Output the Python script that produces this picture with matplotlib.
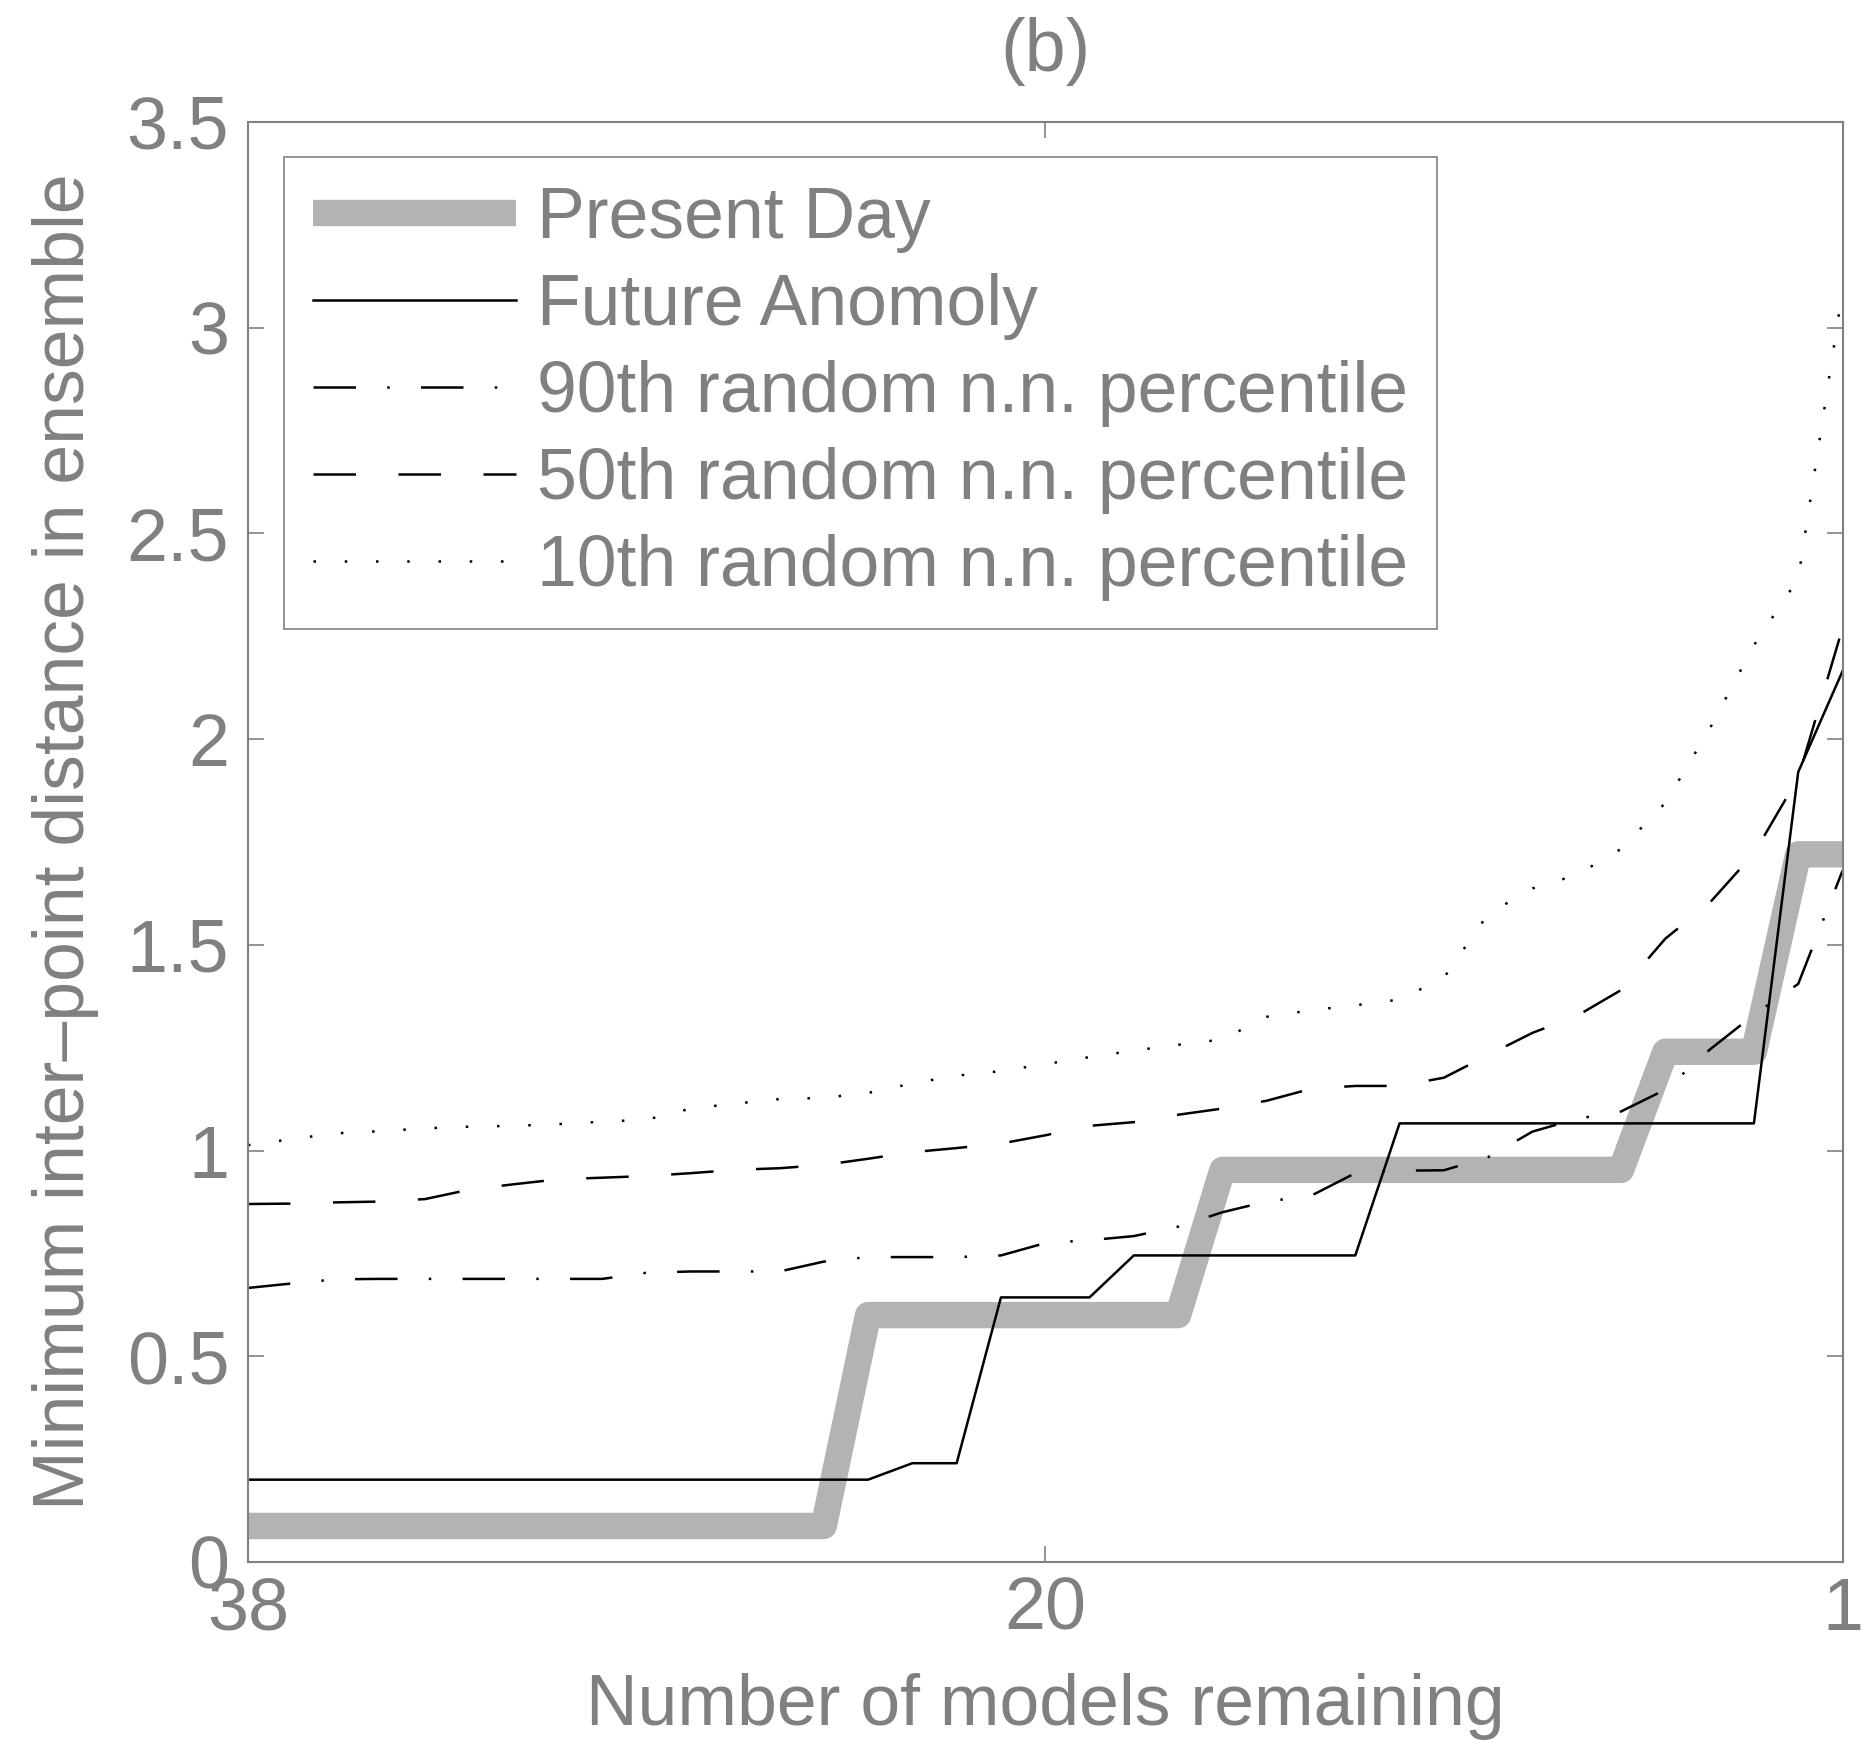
import numpy as np
import matplotlib
matplotlib.use('Agg')
import matplotlib.pyplot as plt

# position along the removal sequence (0 -> 38 models left, 36 -> last one)
steps = np.arange(37)
xtick_pos = [0, 18, 36]
xtick_labels = ['38', '20', '1']
ytick_pos = [0, 0.5, 1, 1.5, 2, 2.5, 3, 3.5]
ytick_labels = ['0', '0.5', '1', '1.5', '2', '2.5', '3', '3.5']

present_day = [0.0875] * 14 + [0.60] * 8 + [0.953] * 10 + [1.24] * 3 + [1.72] * 2
future_anomaly = [0.20] * 15 + [0.24] * 2 + [0.643] * 3 + [0.745] * 6 + [1.066] * 9 + [1.92, 2.165]

p90 = [0.666, 0.677, 0.687, 0.688, 0.688, 0.688, 0.688, 0.688, 0.688, 0.703,
       0.706, 0.706, 0.706, 0.730, 0.741, 0.741, 0.741, 0.745, 0.775, 0.782,
       0.792, 0.815, 0.850, 0.876, 0.890, 0.945, 0.951, 0.952, 0.984, 1.046,
       1.077, 1.095, 1.148, 1.245, 1.330, 1.405, 1.680]
p50 = [0.870, 0.871, 0.874, 0.876, 0.882, 0.905, 0.918, 0.930, 0.934, 0.938,
       0.945, 0.953, 0.957, 0.965, 0.980, 0.996, 1.006, 1.017, 1.037, 1.060,
       1.069, 1.087, 1.102, 1.121, 1.150, 1.157, 1.157, 1.177, 1.232, 1.286,
       1.327, 1.390, 1.515, 1.602, 1.722, 1.906, 2.270]
p10 = [1.013, 1.028, 1.042, 1.047, 1.054, 1.058, 1.060, 1.064, 1.070, 1.075,
       1.102, 1.114, 1.125, 1.128, 1.140, 1.163, 1.182, 1.193, 1.210, 1.227,
       1.243, 1.257, 1.270, 1.325, 1.341, 1.353, 1.367, 1.420, 1.575, 1.637,
       1.670, 1.733, 1.845, 2.025, 2.228, 2.390, 3.090]

labels = ['Present Day', 'Future Anomoly', '90th random n.n. percentile',
          '50th random n.n. percentile', '10th random n.n. percentile']

grey_txt = '#808080'
plt.rcParams['font.family'] = ['Liberation Sans', 'DejaVu Sans']
plt.rcParams['font.size'] = 50

fig = plt.figure(figsize=(18.7, 17.45), dpi=100)
ax = fig.add_axes([0.1326, 0.1049, 0.8527, 0.8252])

ax.plot(steps, present_day, color='#b3b3b3', lw=19, solid_joinstyle='round',
        solid_capstyle='butt', label=labels[0])
ax.plot(steps, future_anomaly, color='black', lw=1.8, label=labels[1])
ax.plot(steps, p90, color='black', lw=1.8, linestyle=(0, (17, 12.5, 1, 12.5)), label=labels[2])
ax.plot(steps, p50, color='black', lw=1.8, linestyle=(0, (17, 17)), label=labels[3])
ax.plot(steps, p10, color='black', lw=1.8, linestyle=(0, (1, 11.5)), label=labels[4])

ax.set_xlim(0, 36)
ax.set_ylim(0, 3.5)
ax.set_xticks(xtick_pos)
ax.set_xticklabels(xtick_labels)
ax.set_yticks(ytick_pos)
ax.set_yticklabels(ytick_labels)
ax.tick_params(direction='in', length=11.5, width=1.2, color=grey_txt, labelcolor=grey_txt,
               top=True, right=True, labelsize=53)
ax.tick_params(axis='y', pad=13.5)
ax.tick_params(axis='x', pad=10)
for sp in ax.spines.values():
    sp.set_color(grey_txt)
    sp.set_linewidth(1.5)

ax.set_xlabel('Number of models remaining', color=grey_txt, fontsize=51.5, labelpad=20)
ax.set_ylabel('Minimum inter\u2013point distance in ensemble', color=grey_txt, fontsize=51.5, labelpad=20)
ax.set_title('(b)', color=grey_txt, fontsize=53, pad=37)

leg = ax.legend(loc='upper left', bbox_to_anchor=(0.0226, 0.9757), borderaxespad=0,
                fontsize=51.5, fancybox=False, framealpha=1, edgecolor=grey_txt,
                handlelength=2.84, handletextpad=0.3, labelspacing=0.28, borderpad=0.4)
leg.get_frame().set_linewidth(1.2)
for t in leg.get_texts():
    t.set_color(grey_txt)

plt.savefig('out.png', dpi=100)
